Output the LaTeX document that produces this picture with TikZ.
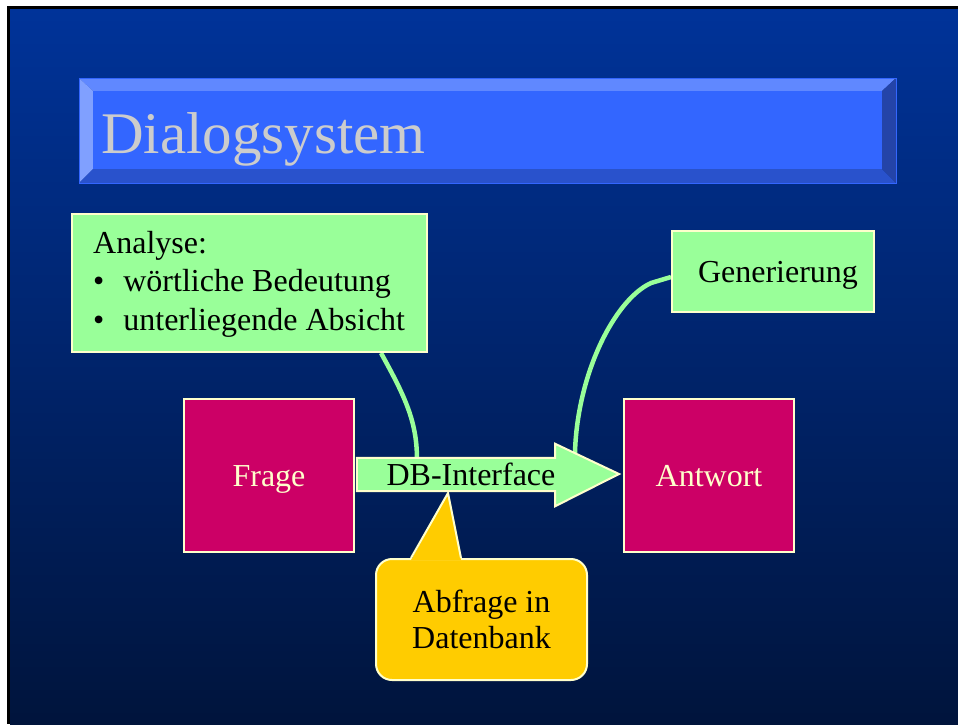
\documentclass[tikz,border=0pt]{standalone}
\usepackage{fontspec}
\setmainfont{Liberation Serif}
\usetikzlibrary{calc}

\definecolor{bgtop}{HTML}{003399}
\definecolor{bgbot}{HTML}{00143C}
\definecolor{facecol}{HTML}{3366FF}
\definecolor{bevtop}{HTML}{6088FF}
\definecolor{bevleft}{HTML}{80A0FF}
\definecolor{bevbot}{HTML}{2952CC}
\definecolor{bevright}{HTML}{2444A8}
\definecolor{titletxt}{HTML}{CCCCCC}
\definecolor{mint}{HTML}{99FF99}
\definecolor{cream}{HTML}{FFFFCC}
\definecolor{berry}{HTML}{CC0066}
\definecolor{gold}{HTML}{FFCC00}

\pgfdeclarelayer{back}
\pgfdeclarelayer{links}
\pgfsetlayers{back,links,main}

\newcommand{\bodyfont}{\fontsize{32}{38.5}\selectfont}

\begin{document}
\begin{tikzpicture}[x=1pt,y=-1pt,
  greenbox/.style={draw=cream, line width=2pt, fill=mint, inner sep=0pt},
  pinkbox/.style={draw=cream, line width=2pt, fill=berry, text=cream,
    minimum width=170pt, minimum height=153pt, inner sep=0pt,
    font=\bodyfont, text height=22pt, text depth=0pt},
  calloutbox/.style={draw=cream, line width=2pt, fill=gold, rounded corners=16pt,
    minimum width=211pt, minimum height=121pt, inner sep=0pt,
    align=center, font=\fontsize{32}{36}\selectfont},
  link/.style={draw=mint, line width=4.5pt},
  bodytext/.style={inner sep=0pt, font=\bodyfont, text=black}]

\useasboundingbox (0,0) rectangle (958,724);

% slide background with its frame
\begin{pgfonlayer}{back}
  \fill[white] (0,0) rectangle (958,724);
  \fill[black] (7,6) rectangle (958,724);
  \shade[top color=bgtop, bottom color=bgbot] (10,9) rectangle (958,724);
\end{pgfonlayer}

% bevelled title bar
\coordinate (tb-nw) at (79,78);
\coordinate (tb-ne) at (896,78);
\coordinate (tb-se) at (896,183);
\coordinate (tb-sw) at (79,183);
\node[fill=facecol, minimum width=789pt, minimum height=78pt, inner sep=0pt] (titleface) at (487.5,130) {};
\fill[bevtop] (tb-nw) -- (tb-ne) -- (titleface.north east) -- (titleface.north west) -- cycle;
\fill[bevleft] (tb-nw) -- (titleface.north west) -- (titleface.south west) -- (tb-sw) -- cycle;
\fill[bevbot] (tb-sw) -- (titleface.south west) -- (titleface.south east) -- (tb-se) -- cycle;
\fill[bevright] (tb-ne) -- (titleface.north east) -- (titleface.south east) -- (tb-se) -- cycle;
\draw[facecol, line width=1pt] (tb-nw) rectangle (tb-se);
\node[anchor=base west, inner sep=0pt, text=titletxt, font=\fontsize{59}{70}\selectfont] (titletext) at (101,153) {Dialogsystem};

% analysis box
\node[greenbox, minimum width=355pt, minimum height=138pt] (analyse) at (249.5,283) {};
\node[bodytext, anchor=north west, align=left] (analysetext) at (93,231)
  {Analyse:\\ \textbullet\hspace{19pt}wörtliche Bedeutung\\ \textbullet\hspace{19pt}unterliegende Absicht};

% generation box
\node[greenbox, minimum width=202pt, minimum height=81pt, font=\bodyfont, text height=22pt, text depth=0pt] (generierung) at (773,271.5) {\hspace{10pt}Generierung};

% question and answer
\node[pinkbox] (frage) at (269,475.5) {Frage};
\node[pinkbox] (antwort) at (709,475.5) {Antwort};

% DB interface arrow
\node[minimum width=198pt, minimum height=33pt, inner sep=0pt] (dbshaft) at (456,474.5) {};
\coordinate (dbtip) at (619,474);
\coordinate (dbheadtop) at ($(dbshaft.north east)+(0,-14)$);
\coordinate (dbheadbot) at ($(dbshaft.south east)+(0,15)$);
\draw[draw=cream, line width=2pt, fill=mint, line join=miter]
  (dbshaft.south west) -- (dbshaft.north west) -- (dbshaft.north east) -- (dbheadtop)
  -- (dbtip) -- (dbheadbot) -- (dbshaft.south east) -- cycle;
\node[bodytext, anchor=base] (dbtext) at (471,485) {DB-Interface};

% database query callout
\node[calloutbox] (abfrage) at (481.5,619.5) {Abfrage in\\Datenbank};
\coordinate (abtip) at (448,493);
\fill[gold] ($(abfrage.north west)+(36,2)$) -- (abtip) -- ($(abfrage.north west)+(86,2)$) -- cycle;
\draw[cream, line width=2pt, line join=miter] ($(abfrage.north west)+(36,0)$) -- (abtip) -- ($(abfrage.north west)+(86,0)$);

% connectors
\coordinate (dbleft) at ($(dbshaft.north west)!0.303!(dbshaft.north east)$);
\coordinate (dbhit) at ($(dbheadtop)!0.31!(dbtip)$);
\begin{pgfonlayer}{links}
  \draw[link] ([xshift=-47pt]analyse.south east) .. controls +(22,40) and +(0,-38) .. (dbleft);
  \draw[link] ([yshift=-5.5pt]generierung.west) -- ++(-20,6) .. controls +(-37,17) and +(2,-78) .. (dbhit);
\end{pgfonlayer}
\end{tikzpicture}
\end{document}
